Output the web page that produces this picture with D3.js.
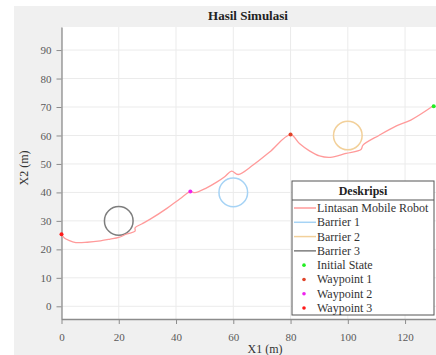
<!DOCTYPE html>
<html>
<head>
<meta charset="utf-8">
<script src="https://cdn.jsdelivr.net/npm/d3@7"></script>
<style>
  body { margin: 0; background: #fff; }
  svg { display: block; }
  svg text { font-family: "Liberation Serif", "DejaVu Serif", serif !important; }
</style>
</head>
<body>
<div id="chart"></div>
<script>
var width = 436,
    height = 355;

// robot path (x1, x2)
let pathX = [0, 1, 2.5, 5, 9, 13.6, 17, 20, 22.8, 25.7, 25.7, 28, 31, 36.8, 41.4, 45, 46.6, 50.7, 54.2, 57, 59.4, 61.7, 66.9, 72.7, 80, 83.1, 86.6, 90.1, 93.9, 99.4, 104.6, 105.3, 111, 116.8, 122, 130];
let pathY = [25.3, 24, 23.2, 22.4, 22.5, 23, 23.6, 24.2, 25.4, 26.4, 27.6, 28.9, 30.6, 34.4, 37.8, 40.3, 39.9, 41.6, 43.6, 45.5, 47.5, 46.3, 49.6, 54.2, 60.3, 57.2, 54.6, 52.8, 52.3, 53.7, 55.1, 56.6, 60.1, 63.3, 65.4, 70.5];

// barriers
let barrierNames = ["Barrier 1", "Barrier 2", "Barrier 3"];
let barrierX = [60, 100, 20];
let barrierY = [40, 60, 30];
let barrierR = [5, 5, 5];
let barrierColors = ["#a6d3f5", "#f2d09a", "#7d7d7d"];

// points
let pointNames = ["Initial State", "Waypoint 1", "Waypoint 2", "Waypoint 3"];
let pointX = [130, 80, 45, 0];
let pointY = [70.3, 60.3, 40.3, 25.3];
let pointColors = ["#22ee22", "#e0442a", "#ee22ee", "#ff1a1a"];

let xTicks = [0, 20, 40, 60, 80, 100, 120];
let yTicks = [0, 10, 20, 30, 40, 50, 60, 70, 80, 90];

let pathColor = "#ff9a9a";

let svg = d3.select("#chart")
    .append("svg")
    .attr("width", width)
    .attr("height", height)
    .attr("font-family", "Liberation Serif, serif");

// grey figure background
svg.append("rect")
    .attr("x", 14).attr("y", 6)
    .attr("width", width - 14).attr("height", height - 6)
    .attr("fill", "#f0f0f0");

let plotLeft = 61.5, plotRight = 436, plotTop = 27, plotBottom = 319;

let x = d3.scaleLinear().domain([0, 130.8]).range([plotLeft, plotRight]);
let y = d3.scaleLinear().domain([-4.46, 98.1]).range([plotBottom, plotTop]);

svg.append("rect")
    .attr("x", plotLeft).attr("y", plotTop)
    .attr("width", plotRight - plotLeft).attr("height", plotBottom - plotTop)
    .attr("fill", "#fff");

// grid
svg.append("g")
    .selectAll("line")
    .data(xTicks)
    .join("line")
    .attr("x1", d => x(d)).attr("x2", d => x(d))
    .attr("y1", plotTop).attr("y2", plotBottom)
    .attr("stroke", "#ebebeb");

svg.append("g")
    .selectAll("line")
    .data(yTicks)
    .join("line")
    .attr("x1", plotLeft).attr("x2", plotRight)
    .attr("y1", d => y(d)).attr("y2", d => y(d))
    .attr("stroke", "#ebebeb");

// axes
let xAxis = svg.append("g")
    .attr("transform", `translate(0, ${plotBottom})`)
    .call(d3.axisBottom(x).tickValues(xTicks).tickSize(5).tickPadding(9).tickSizeOuter(0));

let yAxis = svg.append("g")
    .attr("transform", `translate(${plotLeft}, 0)`)
    .call(d3.axisLeft(y).tickValues(yTicks).tickSize(5).tickPadding(5).tickSizeOuter(0));

[xAxis, yAxis].forEach(function(a){
    a.attr("font-family", null);
    a.select(".domain").attr("stroke", "#8c8c8c").attr("stroke-width", 1.3);
    a.selectAll(".tick line").attr("stroke", "#8c8c8c");
    a.selectAll(".tick text")
        .attr("fill", "#5a5a5a")
        .style("font-size", "11px");
});

// barriers
svg.append("g")
    .selectAll("circle")
    .data(barrierX)
    .join("circle")
    .attr("cx", (d, i) => x(d))
    .attr("cy", (d, i) => y(barrierY[i]))
    .attr("r", (d, i) => x(barrierR[i]) - x(0))
    .attr("fill", "none")
    .attr("stroke", (d, i) => barrierColors[i])
    .attr("stroke-width", 1.5);

// path
let line = d3.line()
    .x(d => x(d[0]))
    .y(d => y(d[1]))
    .curve(d3.curveCatmullRom.alpha(0.5));

svg.append("path")
    .datum(pathX.map((d, i) => [d, pathY[i]]))
    .attr("d", line)
    .attr("fill", "none")
    .attr("stroke", pathColor)
    .attr("stroke-width", 1.3);

// points
svg.append("g")
    .selectAll("circle")
    .data(pointX)
    .join("circle")
    .attr("cx", d => x(d))
    .attr("cy", (d, i) => y(pointY[i]))
    .attr("r", 2)
    .attr("fill", (d, i) => pointColors[i]);

// title and labels
svg.append("text")
    .attr("x", 248).attr("y", 20)
    .attr("text-anchor", "middle")
    .style("font-size", "13px")
    .style("font-weight", "bold")
    .attr("fill", "#222")
    .text("Hasil Simulasi");

svg.append("text")
    .attr("x", 265).attr("y", 353)
    .attr("text-anchor", "middle")
    .style("font-size", "12px")
    .attr("fill", "#333")
    .text("X1 (m)");

svg.append("text")
    .attr("transform", "translate(28, 168) rotate(-90)")
    .attr("text-anchor", "middle")
    .style("font-size", "12px")
    .attr("fill", "#333")
    .text("X2 (m)");

// legend
let lg = svg.append("g").attr("transform", "translate(292, 181)");

lg.append("rect")
    .attr("width", 142).attr("height", 134)
    .attr("fill", "#fff")
    .attr("stroke", "#555")
    .attr("stroke-width", 1);

lg.append("text")
    .attr("x", 71).attr("y", 14)
    .attr("text-anchor", "middle")
    .style("font-size", "12px")
    .style("font-weight", "bold")
    .attr("fill", "#222")
    .text("Deskripsi");

lg.append("line")
    .attr("x1", 0).attr("x2", 142)
    .attr("y1", 19).attr("y2", 19)
    .attr("stroke", "#555");

let lineItems = [{name: "Lintasan Mobile Robot", color: pathColor}]
    .concat(barrierNames.map((n, i) => ({name: n, color: barrierColors[i]})));

let rowY = d3.scaleLinear().domain([0, 7]).range([27, 127]);

lg.selectAll("line.item")
    .data(lineItems)
    .join("line")
    .attr("class", "item")
    .attr("x1", 2).attr("x2", 24)
    .attr("y1", (d, i) => rowY(i)).attr("y2", (d, i) => rowY(i))
    .attr("stroke", d => d.color)
    .attr("stroke-width", 1.5);

lg.selectAll("circle.item")
    .data(pointNames)
    .join("circle")
    .attr("class", "item")
    .attr("cx", 12)
    .attr("cy", (d, i) => rowY(i + 4))
    .attr("r", 1.8)
    .attr("fill", (d, i) => pointColors[i]);

lg.selectAll("text.item")
    .data(lineItems.map(d => d.name).concat(pointNames))
    .join("text")
    .attr("class", "item")
    .attr("x", 25)
    .attr("y", (d, i) => rowY(i) + 4)
    .style("font-size", "12px")
    .attr("fill", "#333")
    .text(d => d);
</script>
</body>
</html>
